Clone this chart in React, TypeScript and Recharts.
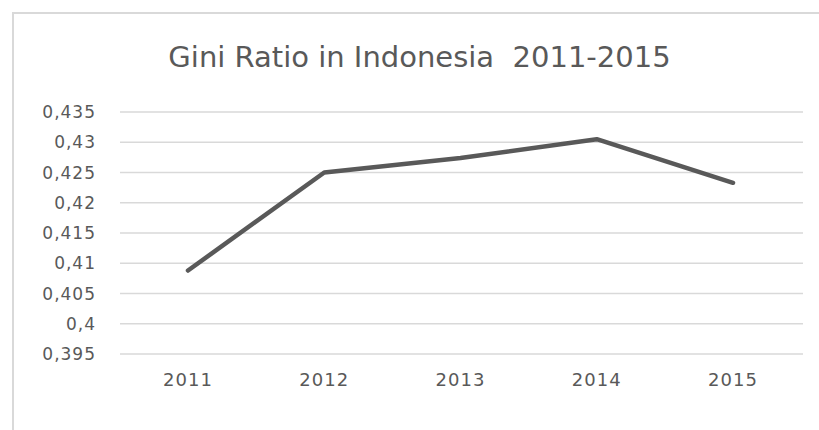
import { LineChart, Line, XAxis, YAxis, CartesianGrid } from "recharts"

const years = ["2011", "2012", "2013", "2014", "2015"]
const giniValues = [0.4088, 0.425, 0.4274, 0.4305, 0.4233]
const yTicks = [0.395, 0.4, 0.405, 0.41, 0.415, 0.42, 0.425, 0.43, 0.435]

const data = years.map((year, i) => ({ year, gini: giniValues[i] }))

const fmt = (v: number) => String(Number(v.toFixed(3))).replace(".", ",")

const font = "'DejaVu Sans', sans-serif"

const App = () => {
  return (
    <div style={{ position: "absolute", top: 0, left: 0, width: 819, height: 430, background: "#fff", overflow: "hidden" }}>
      <div
        style={{
          position: "absolute",
          left: 12,
          top: 12,
          width: 830,
          height: 440,
          borderLeft: "2px solid #d9d9d9",
          borderTop: "2px solid #d9d9d9",
        }}
      />
      <div
        style={{
          position: "absolute",
          top: 40,
          left: 12,
          width: 815,
          textAlign: "center",
          fontFamily: font,
          fontSize: 29,
          color: "#595959",
          whiteSpace: "pre",
        }}
      >
        {"Gini Ratio in Indonesia  2011-2015"}
      </div>
      <LineChart
        width={819}
        height={430}
        data={data}
        margin={{ top: 112, right: 16, bottom: 46, left: 0 }}
        style={{ position: "absolute", top: 0, left: 0 }}
      >
        <CartesianGrid vertical={false} stroke="#d9d9d9" strokeWidth={1.5} />
        <XAxis
          dataKey="year"
          axisLine={false}
          tickLine={false}
          tickSize={0}
          tickMargin={19}
          height={30}
          padding={{ left: 68, right: 70 }}
          tick={{ fill: "#595959", fontSize: 18, fontFamily: font, letterSpacing: 1 }}
        />
        <YAxis
          domain={[0.395, 0.435]}
          ticks={yTicks}
          interval={0}
          tickFormatter={fmt}
          axisLine={false}
          tickLine={false}
          tickSize={0}
          tickMargin={24}
          width={120}
          tick={{ fill: "#595959", fontSize: 17, fontFamily: font, letterSpacing: 1 }}
        />
        <Line
          type="linear"
          dataKey="gini"
          stroke="#595959"
          strokeWidth={4.5}
          strokeLinecap="round"
          strokeLinejoin="round"
          dot={false}
          activeDot={false}
          isAnimationActive={false}
        />
      </LineChart>
    </div>
  )
}

export default App
